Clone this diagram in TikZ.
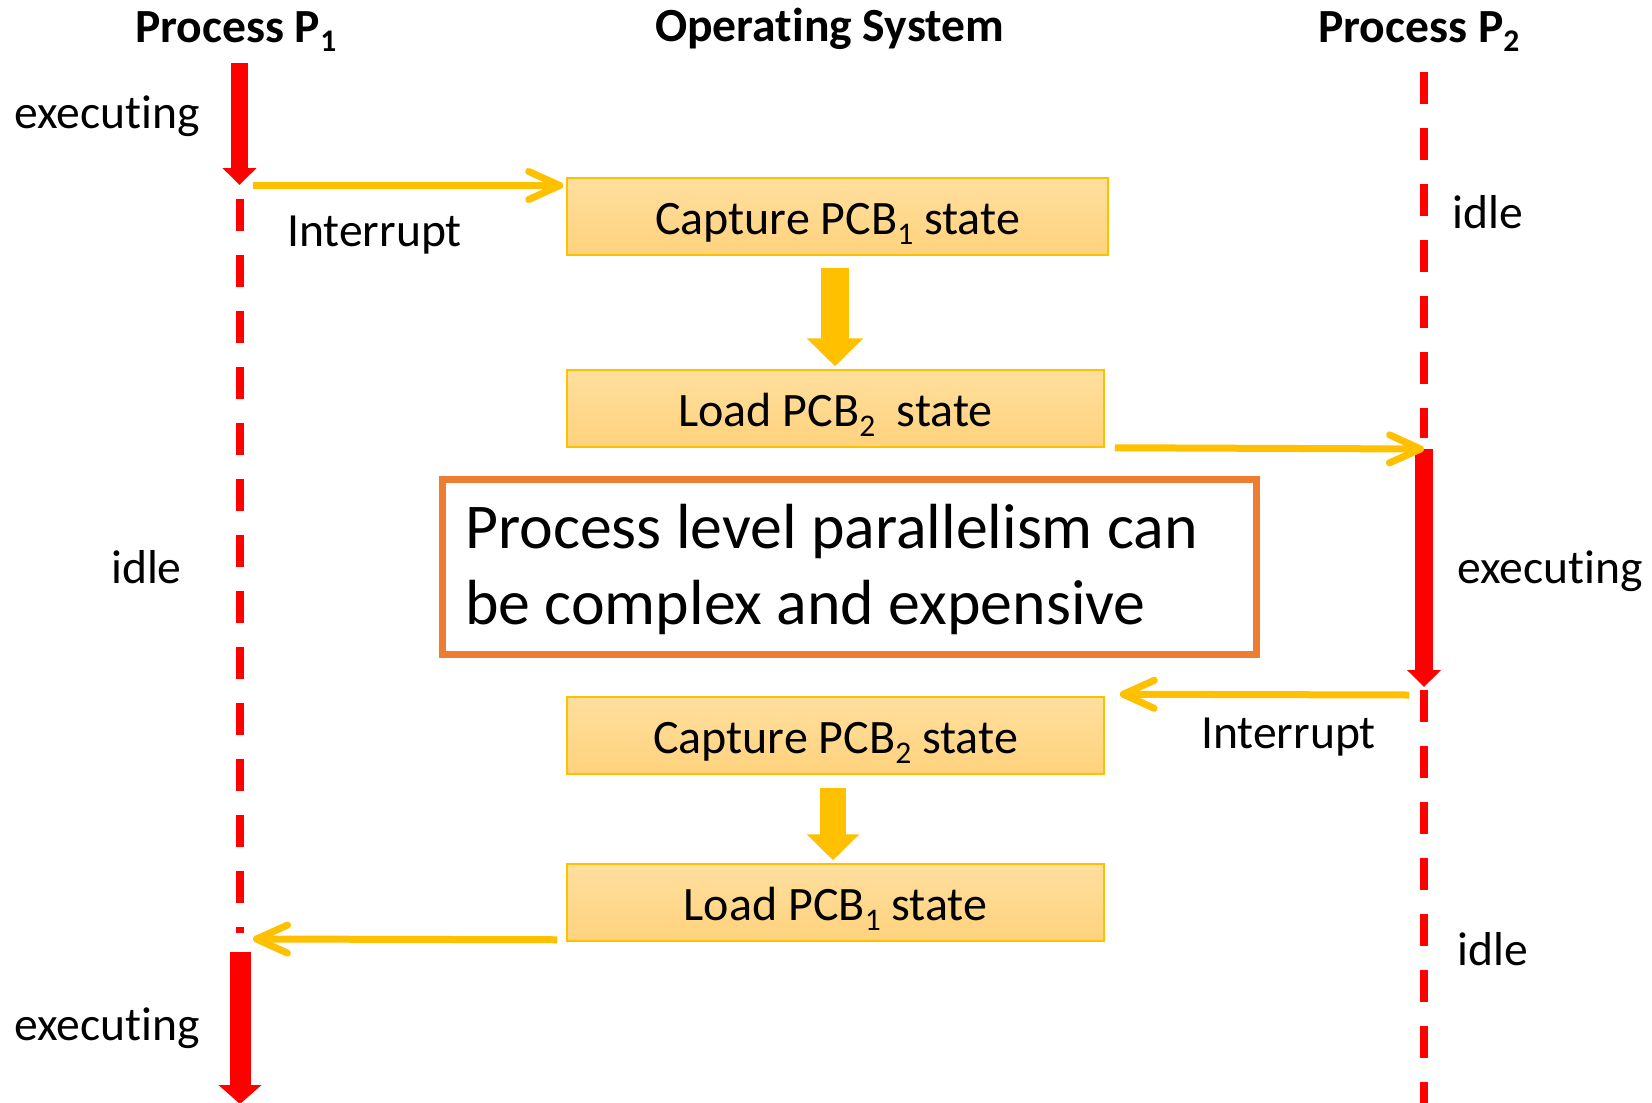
\documentclass[tikz,border=0pt]{standalone}
\usepackage{fontspec}
\setmainfont{Carlito}[Ligatures=NoCommon]
\usetikzlibrary{arrows.meta,calc}

\definecolor{procred}{RGB}{255,0,0}
\definecolor{osgold}{RGB}{255,192,0}
\definecolor{noteorange}{RGB}{237,125,49}
\definecolor{boxtop}{RGB}{255,223,158}
\definecolor{boxbottom}{RGB}{255,210,125}

% lowered small index digit (PCB_1, P_2 ...)
\newcommand\lowidx[1]{\raisebox{-0.21em}{\fontsize{31.5}{31.5}\selectfont #1}}

\tikzset{
  lbl/.style={inner sep=0pt, anchor=base west, font=\fontsize{47.6}{57}\selectfont},
  headlbl/.style={lbl, font=\fontsize{47.6}{57}\selectfont\bfseries},
  pcbbox/.style={draw=osgold, line width=1.5pt, top color=boxtop, bottom color=boxbottom,
    minimum height=77pt, inner sep=0pt, text height=35pt, text depth=0pt,
    font=\fontsize{48}{57}\selectfont},
  idleline/.style={draw=procred, line width=8pt, dash pattern=on 32pt off 24pt},
  runarrow/.style={draw=procred, -{Triangle[length=17pt,width=33pt]}},
  ctrlflow/.style={draw=osgold, line width=7pt, -{Straight Barb[length=31pt,width=28pt,round]}},
  flowstep/.style={draw=osgold, -{Triangle[length=28pt,width=55pt]}},
}

\begin{document}
\begin{tikzpicture}[x=1pt,y=-1pt]
\useasboundingbox (0,0) rectangle (1652,1103);

% life-line key points
\coordinate (p1top)    at (239.5,63);
\coordinate (p1stop)   at (239.5,185);
\coordinate (p1idleA)  at (239.5,199);
\coordinate (p1idleB)  at (239.5,933);
\coordinate (p1resume) at (240,952);
\coordinate (p1end)    at (240,1104);
\coordinate (p2top)    at (1423.5,72);
\coordinate (p2idleA)  at (1423.5,438);
\coordinate (p2start)  at (1424,449);
\coordinate (p2stop)   at (1424,687);
\coordinate (p2idleB)  at (1423.5,690);
\coordinate (p2end)    at (1423.5,1103);
\coordinate (irq1)     at (253,185.5);
\coordinate (irq2)     at (1409,695);
\coordinate (back1)    at (253,939);

% headers
\node[headlbl] (hp1) at (135,42) {Process P\lowidx{1}};
\node[headlbl] (hos) at (655,41) {Operating System};
\node[headlbl] (hp2) at (1318,42) {Process P\lowidx{2}};

% process P1
\draw[idleline] (p1idleA) -- (p1idleB);
\draw[runarrow, line width=17pt] (p1top) -- (p1stop);
\draw[runarrow, line width=21pt, -{Triangle[length=19pt,width=42pt]}] (p1resume) -- (p1end);

% process P2
\draw[idleline] (p2top) -- (p2idleA);
\draw[idleline] (p2idleB) -- (p2end);
\draw[runarrow, line width=18pt] (p2start) -- (p2stop);

% operating system steps
\node[pcbbox, minimum width=541pt] (cap1)  at (837.5,216.5) {Capture PCB\lowidx{1} state};
\node[pcbbox, minimum width=537pt] (load2) at (835.5,408.5) {Load PCB\lowidx{2}\hspace{0.22em} state};
\node[pcbbox, minimum width=537pt] (cap2)  at (835.5,735.5) {Capture PCB\lowidx{2} state};
\node[pcbbox, minimum width=537pt] (load1) at (835.5,902.5) {Load PCB\lowidx{1} state};

\draw[flowstep, line width=28pt] ($(cap1.south)+(-2.5,12)$) -- ($(load2.north)+(-0.5,-3)$);
\draw[flowstep, line width=26pt, -{Triangle[length=26pt,width=51pt]}]
  ($(cap2.south)+(-2.5,13)$) -- ($(load1.north)+(-2.5,-3)$);

% control transfers
\draw[ctrlflow] (irq1) -- ($(irq1 -| cap1.west)+(-3,0)$);
\draw[ctrlflow] ($(load2.south east)+(10,0)$) -- (p2start);
\draw[ctrlflow] (irq2) -- ($(cap2.north east)+(15,-2)$);
\draw[ctrlflow] ($(load1.south west)+(-9,-2)$) -- (back1);

% note
\node[draw=noteorange, line width=7pt, minimum width=814pt, minimum height=175pt, inner sep=0pt]
  (note) at (849,566.5) {};
\node[lbl, font=\fontsize{63.8}{76}\selectfont] (noteA) at (465,548) {Process level parallelism can};
\node[lbl, font=\fontsize{63.8}{76}\selectfont] (noteB) at (465,624) {be complex and expensive};

% state labels
\node[lbl] (exec1a) at (14,128)   {executing};
\node[lbl] (irqlbl1) at (287,246) {Interrupt};
\node[lbl] (idle2a) at (1452,228) {idle};
\node[lbl] (idle1)  at (111,583)  {idle};
\node[lbl] (exec2)  at (1457,583) {executing};
\node[lbl] (irqlbl2) at (1201,748) {Interrupt};
\node[lbl] (idle2b) at (1457,965) {idle};
\node[lbl] (exec1b) at (14,1040)  {executing};
\end{tikzpicture}
\end{document}
